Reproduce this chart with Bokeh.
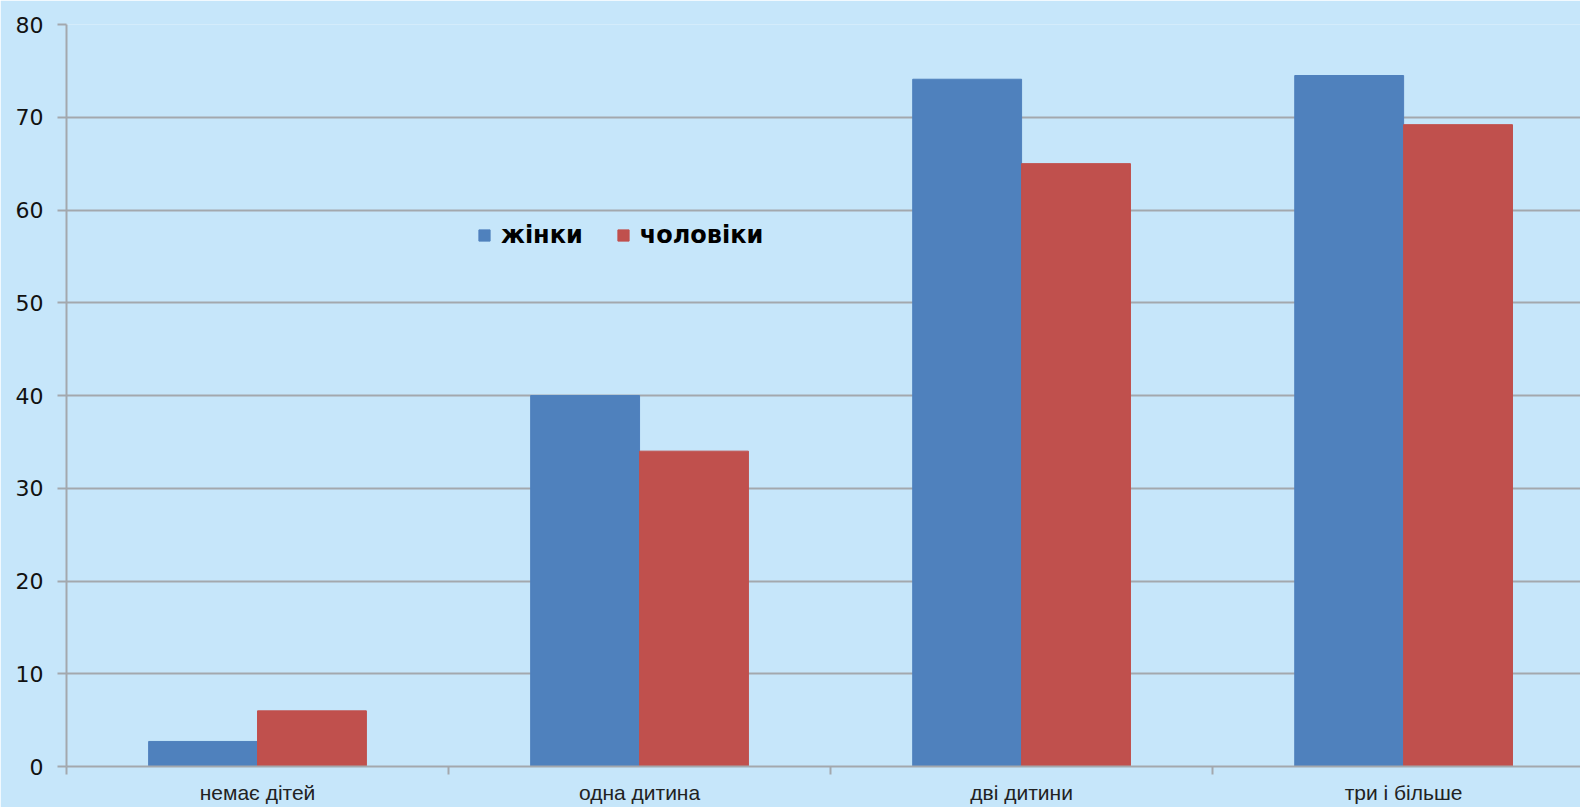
from bokeh.plotting import figure
from bokeh.models import Range1d, FixedTicker, Legend, LegendItem, ColumnDataSource
from bokeh.embed import file_html
from bokeh.resources import INLINE

categories = ["немає дітей", "одна дитина", "дві дитини", "три і більше"]
women = [2.7, 40.0, 74.1, 74.5]
men = [6.0, 34.0, 65.0, 69.2]
series_names = ["жінки", "чоловіки"]
y_ticks = [0, 10, 20, 30, 40, 50, 60, 70, 80]

BG = "#C6E6FA"
GRID = "#A3A8AD"
BLUE = "#4F81BD"
RED = "#C0504D"

bar_w = 0.285
centers = [i + 0.5 for i in range(len(categories))]

p = figure(width=1580, height=807, output_backend="svg", toolbar_location=None,
           x_range=Range1d(0, 3.963), y_range=Range1d(0, 80),
           min_border_left=66, min_border_right=0, min_border_top=24, min_border_bottom=41)
p.background_fill_color = BG
p.border_fill_color = BG
p.outline_line_color = None

src_w = ColumnDataSource(dict(x=[c - bar_w / 2 for c in centers], top=women))
src_m = ColumnDataSource(dict(x=[c + bar_w / 2 for c in centers], top=men))
rw = p.vbar(x="x", top="top", width=bar_w, source=src_w, fill_color=BLUE, line_color=BLUE, line_width=1)
rm = p.vbar(x="x", top="top", width=bar_w, source=src_m, fill_color=RED, line_color=RED, line_width=1)

# x axis
p.xaxis.ticker = FixedTicker(ticks=centers, minor_ticks=[0, 1, 2, 3, 4])
p.xaxis.major_label_overrides = {c: lab for c, lab in zip(centers, categories)}
p.xaxis.major_tick_out = 0
p.xaxis.major_tick_in = 0
p.xaxis.minor_tick_out = 8
p.xaxis.minor_tick_in = 0
p.xaxis.minor_tick_line_color = GRID
p.xaxis.minor_tick_line_width = 2
p.xaxis.axis_line_color = GRID
p.xaxis.axis_line_width = 2
p.xaxis.major_label_text_font = "Liberation Sans"
p.xaxis.major_label_text_font_size = "21px"
p.xaxis.major_label_text_color = "#222222"
p.xaxis.major_label_standoff = 6
p.xgrid.grid_line_color = None

# y axis
p.yaxis.ticker = FixedTicker(ticks=y_ticks, minor_ticks=[])
p.yaxis.major_tick_out = 9
p.yaxis.major_tick_in = 0
p.yaxis.major_tick_line_color = GRID
p.yaxis.major_tick_line_width = 2
p.yaxis.axis_line_color = GRID
p.yaxis.axis_line_width = 2
p.yaxis.major_label_text_font = "DejaVu Sans"
p.yaxis.major_label_text_font_size = "22px"
p.yaxis.major_label_text_color = "#111111"
p.yaxis.major_label_standoff = 14
p.ygrid.ticker = FixedTicker(ticks=y_ticks)
p.ygrid.grid_line_color = GRID
p.ygrid.grid_line_width = 2

legend = Legend(items=[LegendItem(label=series_names[0], renderers=[rw]),
                       LegendItem(label=series_names[1], renderers=[rm])],
                orientation="horizontal", location=(411, 517),
                background_fill_alpha=0, border_line_color=None,
                padding=0, margin=0, spacing=33, label_standoff=10,
                glyph_width=14, glyph_height=14,
                label_text_font="DejaVu Sans", label_text_font_style="bold",
                label_text_font_size="24px", label_text_color="#000000")
p.add_layout(legend, "center")

open("out.html", "w").write(file_html(p, INLINE))
